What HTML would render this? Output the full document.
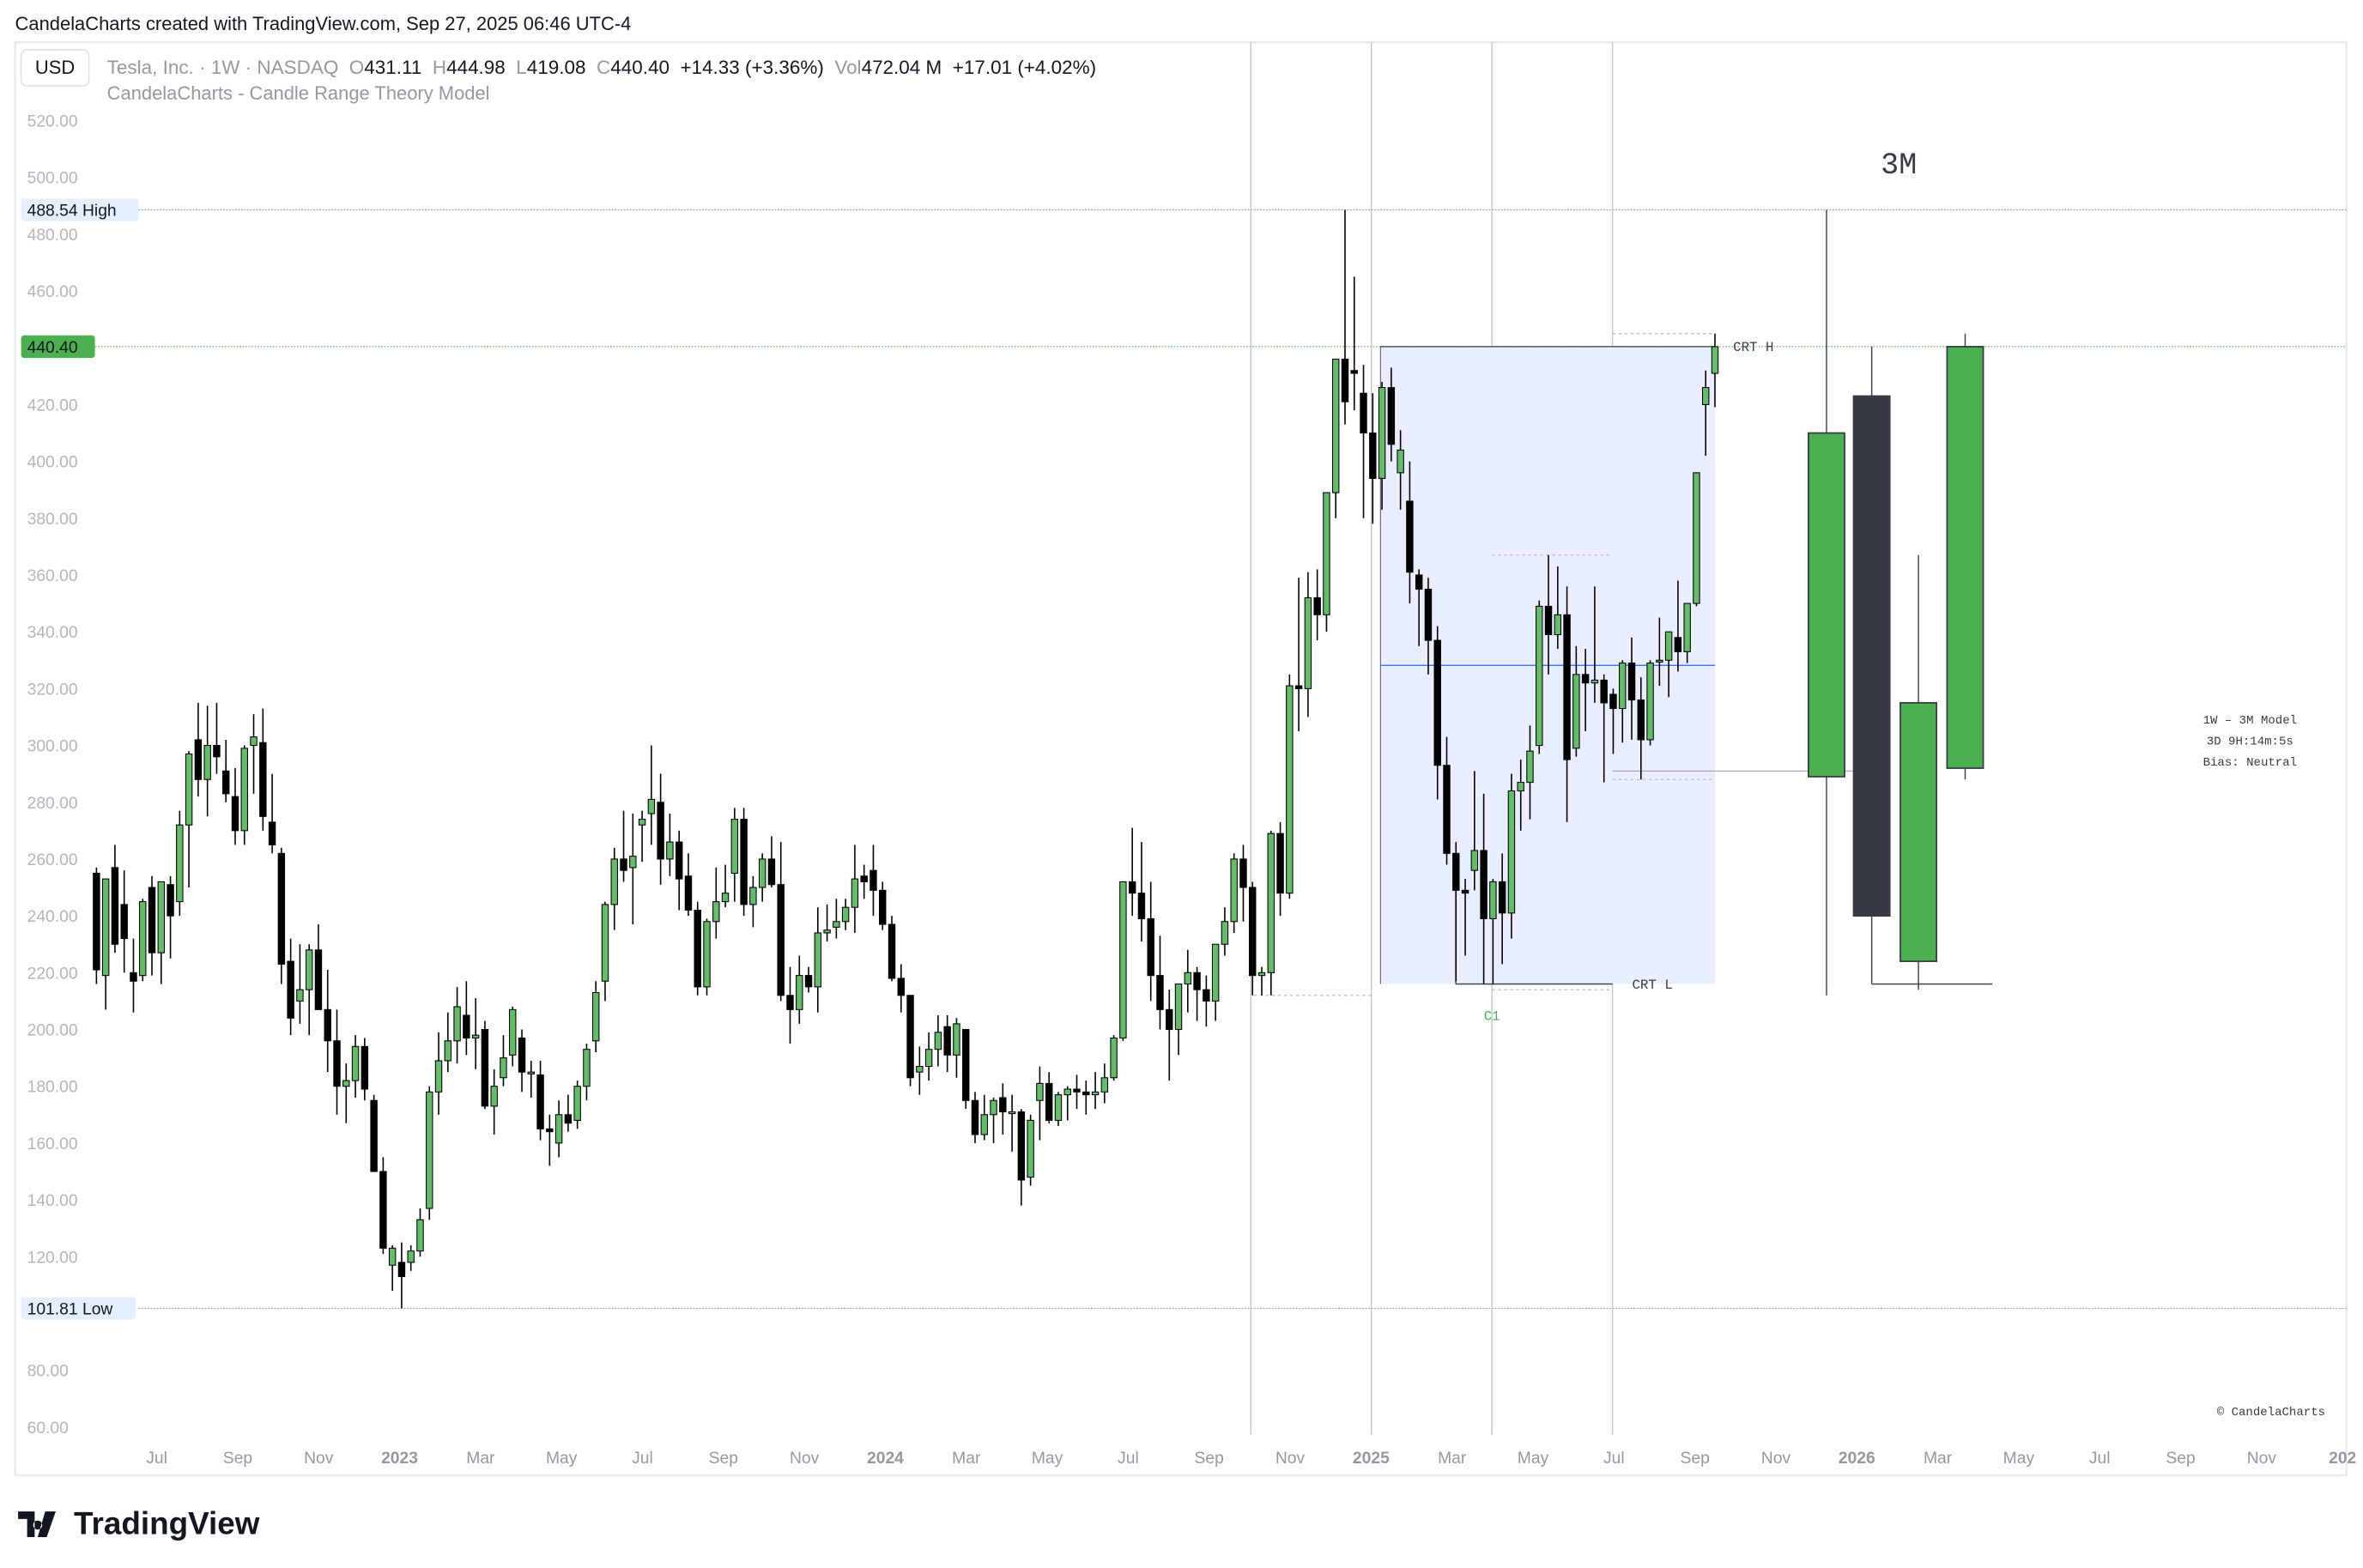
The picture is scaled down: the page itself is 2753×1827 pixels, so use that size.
<!DOCTYPE html>
<html><head><meta charset="utf-8">
<style>
html,body{margin:0;padding:0;background:#fff;}
svg{display:block;font-family:"Liberation Sans",sans-serif;}
.mono{font-family:"Liberation Mono","DejaVu Sans Mono",monospace;}
</style></head>
<body>
<svg id="chart" width="2753" height="1827" viewBox="0 0 1568 1040.5" preserveAspectRatio="none" xmlns="http://www.w3.org/2000/svg">
<rect x="0" y="0" width="1568" height="1041" fill="#fff"/>
<text x="10" y="20" font-size="12.5" fill="#131722">CandelaCharts created with TradingView.com, Sep 27, 2025 06:46 UTC-4</text>
<rect x="10" y="28" width="1547" height="951" fill="none" stroke="#e9ebf0" stroke-width="1.5"/>
<g id="grid"></g>
<g stroke="#c4c6cc" stroke-width="0.8">
<line x1="830" y1="28" x2="830" y2="952"/><line x1="910" y1="28" x2="910" y2="952"/>
<line x1="990" y1="28" x2="990" y2="952"/><line x1="1070" y1="28" x2="1070" y2="952"/>
</g>
<g id="overlay"></g>
<g id="candles"></g>
<g id="bigcandles"></g>
<g id="labels"></g>
<rect x="14" y="33" width="45" height="24" rx="4" fill="#fff" stroke="#e0e3eb"/>
<text x="36.5" y="49" font-size="12.5" fill="#131722" text-anchor="middle">USD</text>
<text x="71" y="49" font-size="12.8" fill="#131722" xml:space="preserve"><tspan fill="#9598a1">Tesla, Inc. · 1W · NASDAQ  O</tspan>431.11  <tspan fill="#9598a1">H</tspan>444.98  <tspan fill="#9598a1">L</tspan>419.08  <tspan fill="#9598a1">C</tspan>440.40  +14.33 (+3.36%)  <tspan fill="#9598a1">Vol</tspan>472.04 M  +17.01 (+4.02%)</text>
<text x="71" y="66" font-size="12.5" fill="#9598a1">CandelaCharts - Candle Range Theory Model</text>
<text x="1260" y="115" font-size="20" fill="#363a45" text-anchor="middle" class="mono">3M</text>
<text x="1493" y="480" font-size="8" fill="#363a45" text-anchor="middle" class="mono">1W – 3M Model</text>
<text x="1493" y="494" font-size="8" fill="#363a45" text-anchor="middle" class="mono">3D 9H:14m:5s</text>
<text x="1493" y="508" font-size="8" fill="#363a45" text-anchor="middle" class="mono">Bias: Neutral</text>
<text x="1507" y="939" font-size="8" fill="#363a45" text-anchor="middle" class="mono">© CandelaCharts</text>
<g>
<path d="M12 1003 h11 v17 h-5 v-12 h-6z M25 1009 a3 3 0 1 0 0.01 0z M30 1003 h7 l-6 17 h-6z" fill="#131722"/>
<text x="49" y="1018" font-size="21" font-weight="bold" fill="#131722">TradingView</text>
</g>
</svg>
<script>
const opens=[255,219,257,244,220,219,250,227,251,245,272,302,288,300,291,282,270,300,301,273,262,224,210,214,228,207,196,180,182,194,175,150,117,118,118,122,137,178,189,196,205,197,200,173,183,191,197,185,184,165,160,170,168,180,196,217,244,260,257,272,276,280,260,266,254,242,215,238,245,255,274,244,250,260,251,212,207,219,215,234,236,238,243,254,256,249,237,218,212,185,187,193,201,191,200,175,163,170,176,171,171,148,175,181,168,177,179,178,177,178,183,197,252,248,239,219,207,200,216,220,214,210,230,238,260,250,219,220,269,248,321,320,352,346,389,436,432,424,410,394,426,396,386,360,355,337,293,262,249,256,263,239,252,241,284,287,300,349,339,346,299,325,322,323,318,313,329,316,302,330,330,338,333,350,420,431];
const highs=[257,253,265,256,232,246,254,252,254,277,298,315,314,315,302,292,300,311,313,290,264,232,230,230,237,221,207,188,198,197,177,155,124,125,124,137,180,199,206,215,217,211,203,186,198,208,200,189,189,170,175,177,182,195,217,245,264,277,276,277,300,290,276,270,262,245,239,257,258,278,278,254,262,268,266,222,226,222,243,244,246,246,265,258,265,252,240,223,212,194,199,205,205,204,200,178,177,176,181,177,172,170,187,185,178,180,184,182,185,188,198,252,271,266,252,233,214,216,228,222,219,230,243,262,265,252,222,270,273,325,359,361,362,389,436,488.54,465,434,424,428,433,411,400,362,359,342,303,266,253,291,283,253,262,290,295,307,351,367,363,356,335,334,356,325,320,330,338,324,330,345,340,358,350,396,432,444.98];
const lows=[216,207,227,220,206,217,219,216,225,240,250,282,275,290,280,265,265,283,270,262,216,198,202,198,207,185,170,167,176,175,150,121,108,101.81,115,120,133,170,185,188,191,186,172,163,180,187,178,176,161,152,155,164,165,175,192,210,235,252,237,259,265,251,254,242,240,212,212,232,243,245,240,236,245,250,210,195,202,213,206,231,232,235,234,246,240,235,217,206,180,177,182,187,185,183,172,160,161,160,163,157,138,145,161,167,166,168,172,170,172,174,182,196,240,231,210,200,182,191,206,203,201,203,226,234,238,212,212,212,240,246,305,310,337,340,380,413,418,380,378,383,400,383,350,335,325,281,258,217,226,249,216,216,223,232,270,274,297,325,334,273,296,305,315,287,297,301,302,288,300,321,317,326,329,349,402,419.08];
const closes=[221,253,230,232,217,245,227,252,240,272,297,288,300,296,283,270,299,303,275,265,223,204,214,228,207,196,180,182,194,179,150,123,123,113,122,133,178,189,196,208,197,198,173,180,190,207,185,185,165,164,170,167,180,193,213,244,260,256,261,274,281,260,266,253,242,215,238,245,248,274,244,250,260,251,212,207,219,215,234,235,238,243,253,252,249,237,218,212,183,187,193,199,191,202,175,163,170,175,171,171,147,168,181,168,177,179,178,177,178,183,197,252,248,239,219,207,200,216,220,214,210,230,238,260,250,219,220,269,248,321,320,352,346,389,436,421,431,410,394,426,406,404,361,355,337,293,262,249,248,263,239,252,241,284,287,298,349,339,346,295,325,322,323,315,313,329,316,302,329,330,340,333,350,396,426,440.4];
const qOpen=[289,423,224,292], qHigh=[488.54,440.4,367,444.98], qLow=[212,216,214,288], qClose=[410,240,315,440.4];
const yTicks=[520,500,480,460,440,420,400,380,360,340,320,300,280,260,240,220,200,180,160,140,120,100,80,60];
const xLabels=["Jul","Sep","Nov","2023","Mar","May","Jul","Sep","Nov","2024","Mar","May","Jul","Sep","Nov","2025","Mar","May","Jul","Sep","Nov","2026","Mar","May","Jul","Sep","Nov","202"];
const xLabelMonths=[0,2,4,6,8,10,12,14,16,18,20,22,24,26,28,30,32,34,36,38,40,42,44,46,48,50,52,54];
const crtHigh=440.4, crtLow=216, crtMid=328.2;

const NS="http://www.w3.org/2000/svg";
const y=v=>80+(520-v)*1.8848;
const xw=i=>64+i*6.137;
const xm=m=>104+m*26.86;
function mk(tag,attrs,parent){const e=document.createElementNS(NS,tag);for(const k in attrs)e.setAttribute(k,attrs[k]);parent.appendChild(e);return e;}
const grid=document.getElementById('grid'),labels=document.getElementById('labels'),cg=document.getElementById('candles'),bg=document.getElementById('bigcandles'),ov=document.getElementById('overlay');

yTicks.forEach(v=>{
  const t=mk('text',{x:18,y:y(v)+4,'font-size':11,fill:'#b2b5be'},labels);
  
  
  t.textContent=v.toFixed(2);
});
xLabels.forEach((s,i)=>{
  const t=mk('text',{x:xm(xLabelMonths[i]),y:971,'font-size':11,fill:'#9598a1','text-anchor':'middle','font-weight':/^20/.test(s)?'bold':'normal'},labels);
  
  
  t.textContent=s;
});
const hiL=mk('line',{x1:92,x2:1557,y1:y(488.54),y2:y(488.54),stroke:'#9598a1','stroke-width':0.6,'stroke-dasharray':'1 1'},grid);


const loL=mk('line',{x1:92,x2:1557,y1:y(101.81),y2:y(101.81),stroke:'#9598a1','stroke-width':0.6,'stroke-dasharray':'1 1'},grid);


const lastL=mk('line',{x1:63,x2:1557,y1:y(440.4),y2:y(440.4),stroke:'#4caf50','stroke-width':0.6,'stroke-dasharray':'1 1'},grid);



const bx=mk('rect',{x:916,y:y(crtHigh),width:1138-916,height:y(crtLow)-y(crtHigh),fill:'#e8eefd'},ov);


mk('line',{x1:916,x2:1138,y1:y(crtHigh),y2:y(crtHigh),stroke:'#363a45','stroke-width':0.7},ov);
mk('line',{x1:916,x2:916,y1:y(crtHigh),y2:y(crtLow),stroke:'#363a45','stroke-width':0.5},ov);
const mid=mk('line',{x1:916,x2:1138,y1:y(crtMid),y2:y(crtMid),stroke:'#2962ff','stroke-width':0.7},ov);


mk('line',{x1:966,x2:1070,y1:y(crtLow),y2:y(crtLow),stroke:'#363a45','stroke-width':0.8},ov);
mk('line',{x1:966,x2:966,y1:y(crtLow),y2:y(262),stroke:'#363a45','stroke-width':0.8},ov);
mk('line',{x1:1070,x2:1230,y1:y(291),y2:y(291),stroke:'#9598a1','stroke-width':0.6},ov);
mk('line',{x1:1242,x2:1322,y1:y(crtLow),y2:y(crtLow),stroke:'#363a45','stroke-width':0.8},ov);
[[1070,1138,445],[990,1070,367],[1070,1138,288],[832,910,212],[990,1070,214]].forEach(d=>{
  mk('line',{x1:d[0],x2:d[1],y1:y(d[2]),y2:y(d[2]),stroke:'#b2b5be','stroke-width':0.6,'stroke-dasharray':'2 2'},ov);
});
const th=mk('text',{x:1150,y:y(crtHigh)+3,'font-size':9,fill:'#363a45',class:'mono'},ov);


th.textContent='CRT H';
const tl=mk('text',{x:1083,y:y(crtLow)+3,'font-size':9,fill:'#363a45',class:'mono'},ov);


tl.textContent='CRT L';
const c1=mk('text',{x:990,y:y(crtLow)+24,'font-size':9,fill:'#4caf50','text-anchor':'middle',class:'mono'},ov);


c1.textContent='C1';

closes.forEach((c,i)=>{
  const o=opens[i],h=highs[i],l=lows[i],cx=xw(i),up=c>=o;
  const g=mk('g',{},cg);
  
  
  mk('line',{x1:cx,x2:cx,y1:y(h),y2:y(l),stroke:'#000','stroke-width':0.9},g);
  const top=y(Math.max(o,c)),bot=y(Math.min(o,c));
  mk('rect',{x:cx-2.1,y:top,width:4.2,height:Math.max(bot-top,1.2),fill:up?'#66bb6a':'#000',stroke:'#000','stroke-width':0.6},g);
});
const qx=[1212,1242,1273,1304];
qClose.forEach((c,i)=>{
  const o=qOpen[i],up=c>=o,cx=qx[i];
  const g=mk('g',{},bg);
  
  
  mk('line',{x1:cx,x2:cx,y1:y(qHigh[i]),y2:y(qLow[i]),stroke:'#363a45','stroke-width':0.8},g);
  const top=y(Math.max(o,c)),bot=y(Math.min(o,c));
  mk('rect',{x:cx-12,y:top,width:24,height:bot-top,fill:up?'#4caf50':'#363a45',stroke:'#363a45','stroke-width':1},g);
});
function tag(v,txt,bgc,w,name){
  const g=mk('g',{},labels);
  
  
  mk('rect',{x:14,y:y(v)-7.5,width:w,height:15,rx:2,fill:bgc},g);
  const t=mk('text',{x:18,y:y(v)+4,'font-size':11,fill:'#131722','xml:space':'preserve'},g);
  t.textContent=txt;
}
tag(488.54,'488.54    High','#e3effd',78,'high-price-label');
tag(101.81,'101.81    Low','#e3effd',76,'low-price-label');
tag(440.4,'440.40','#4caf50',49,'last-price-label');
</script>
</body></html>
